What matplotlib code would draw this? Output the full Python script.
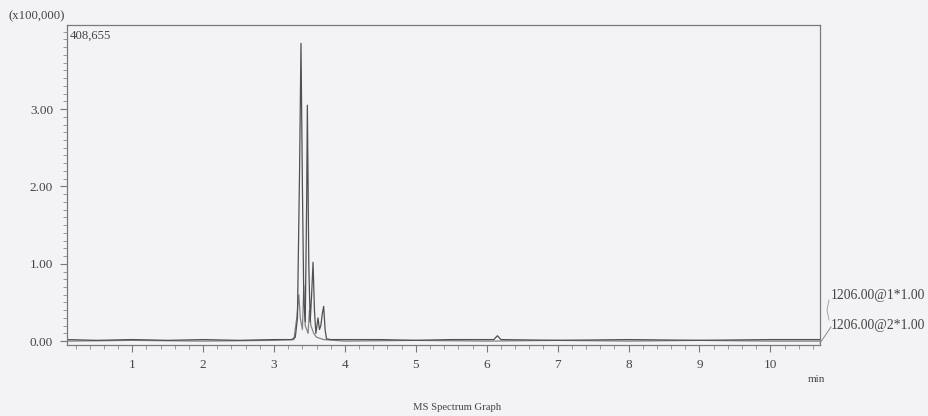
import matplotlib
matplotlib.use("Agg")
import matplotlib.pyplot as plt
from matplotlib.ticker import MultipleLocator, FixedLocator
from matplotlib.lines import Line2D

# Retention time (min) and intensity (x100,000) for each MRM channel
time_ch1 = [0.08, 0.5, 1.0, 1.5, 2.0, 2.5, 3.0, 3.25, 3.30, 3.33, 3.36, 3.38,
            3.40, 3.42, 3.44, 3.46, 3.47, 3.49, 3.51, 3.53, 3.55, 3.57, 3.59,
            3.62, 3.64, 3.66, 3.68, 3.70, 3.72, 3.74, 3.80, 4.5, 5.0, 5.5,
            6.10, 6.15, 6.20, 7.0, 8.0, 9.0, 10.0, 10.70]
inten_ch1 = [0.02, 0.01, 0.02, 0.01, 0.02, 0.01, 0.02, 0.02, 0.05, 0.30, 2.20,
             3.85, 2.00, 0.50, 0.25, 1.80, 3.05, 1.00, 0.25, 0.60, 1.02, 0.40,
             0.10, 0.30, 0.15, 0.20, 0.35, 0.45, 0.15, 0.03, 0.02, 0.02, 0.01,
             0.02, 0.02, 0.07, 0.02, 0.01, 0.02, 0.01, 0.02, 0.02]

time_ch2 = [0.08, 1.0, 2.0, 3.0, 3.28, 3.32, 3.35, 3.37, 3.40, 3.42, 3.44,
            3.48, 3.50, 3.52, 3.56, 3.60, 3.70, 4.0, 5.0, 6.0, 7.0, 8.0, 9.0,
            10.0, 10.70]
inten_ch2 = [0.00, 0.01, 0.00, 0.01, 0.02, 0.30, 0.60, 0.30, 0.15, 0.72, 0.20,
             0.10, 0.40, 0.20, 0.10, 0.05, 0.02, 0.00, 0.01, 0.00, 0.01, 0.00,
             0.01, 0.00, 0.00]

channel_labels = ["1206.00@1*1.00", "1206.00@2*1.00"]
y_major = [0, 1, 2, 3]
y_tick_labels = ["0.00", "1.00", "2.00", "3.00"]
x_major = [1, 2, 3, 4, 5, 6, 7, 8, 9, 10]
max_label = "408,655"
scale_label = "(x100,000)"

bg = "#f3f3f6"
ink = "#444444"
serif = ["Liberation Serif", "DejaVu Serif"]

fig = plt.figure(figsize=(9.29, 4.16), dpi=100, facecolor=bg)
ax = fig.add_axes([67 / 929, 1 - 345 / 416, (820 - 67) / 929, (345 - 25) / 416])
ax.set_facecolor(bg)

ax.plot(time_ch2, inten_ch2, color="#858585", lw=0.9)
ax.plot(time_ch1, inten_ch1, color="#505050", lw=0.9)

ax.set_xlim(0.08, 10.70)
ax.set_ylim(-0.05, 4.08655)

ax.xaxis.set_major_locator(FixedLocator(x_major))
ax.xaxis.set_minor_locator(MultipleLocator(0.2))
ax.yaxis.set_major_locator(FixedLocator(y_major))
ax.yaxis.set_minor_locator(MultipleLocator(0.1))
ax.set_xticklabels([str(v) for v in x_major])
ax.set_yticklabels(y_tick_labels)

ax.tick_params(which="major", direction="out", length=5, width=0.8,
               color="#777777", labelsize=9.5, labelcolor=ink, pad=5)
ax.tick_params(which="minor", direction="out", length=3, width=0.6,
               color="#888888")
for lab in ax.get_xticklabels() + ax.get_yticklabels():
    lab.set_family(serif)

for sp in ax.spines.values():
    sp.set_color("#7a7a7a")
    sp.set_linewidth(0.9)

txt = dict(color=ink, family=serif)
fig.text(9 / 929, 1 - 16 / 416, scale_label, fontsize=9.2, va="center", **txt)
ax.text(0.003, 0.985, max_label, transform=ax.transAxes, fontsize=9.2,
        va="top", ha="left", **txt)
fig.text(831 / 929, 1 - 296 / 416, channel_labels[0], fontsize=9.8,
         va="center", **txt)
fig.text(831 / 929, 1 - 325 / 416, channel_labels[1], fontsize=9.8,
         va="center", **txt)
fig.text(808 / 929, 1 - 379 / 416, "min", fontsize=8, va="center", **txt)
fig.text(457 / 929, 1 - 407 / 416, "MS Spectrum Graph", fontsize=7.7,
         ha="center", va="center", **txt)

# leader lines from the trace ends to the channel labels
fig.add_artist(Line2D([820 / 929, 831 / 929], [1 - 343 / 416, 1 - 327 / 416],
                      color="#8a8a8a", lw=0.7))
fig.add_artist(Line2D([829 / 929, 827 / 929, 829 / 929],
                      [1 - 300 / 416, 1 - 310 / 416, 1 - 320 / 416],
                      color="#9a9a9a", lw=0.6))

fig.savefig("out.png", dpi=100, facecolor=bg)
